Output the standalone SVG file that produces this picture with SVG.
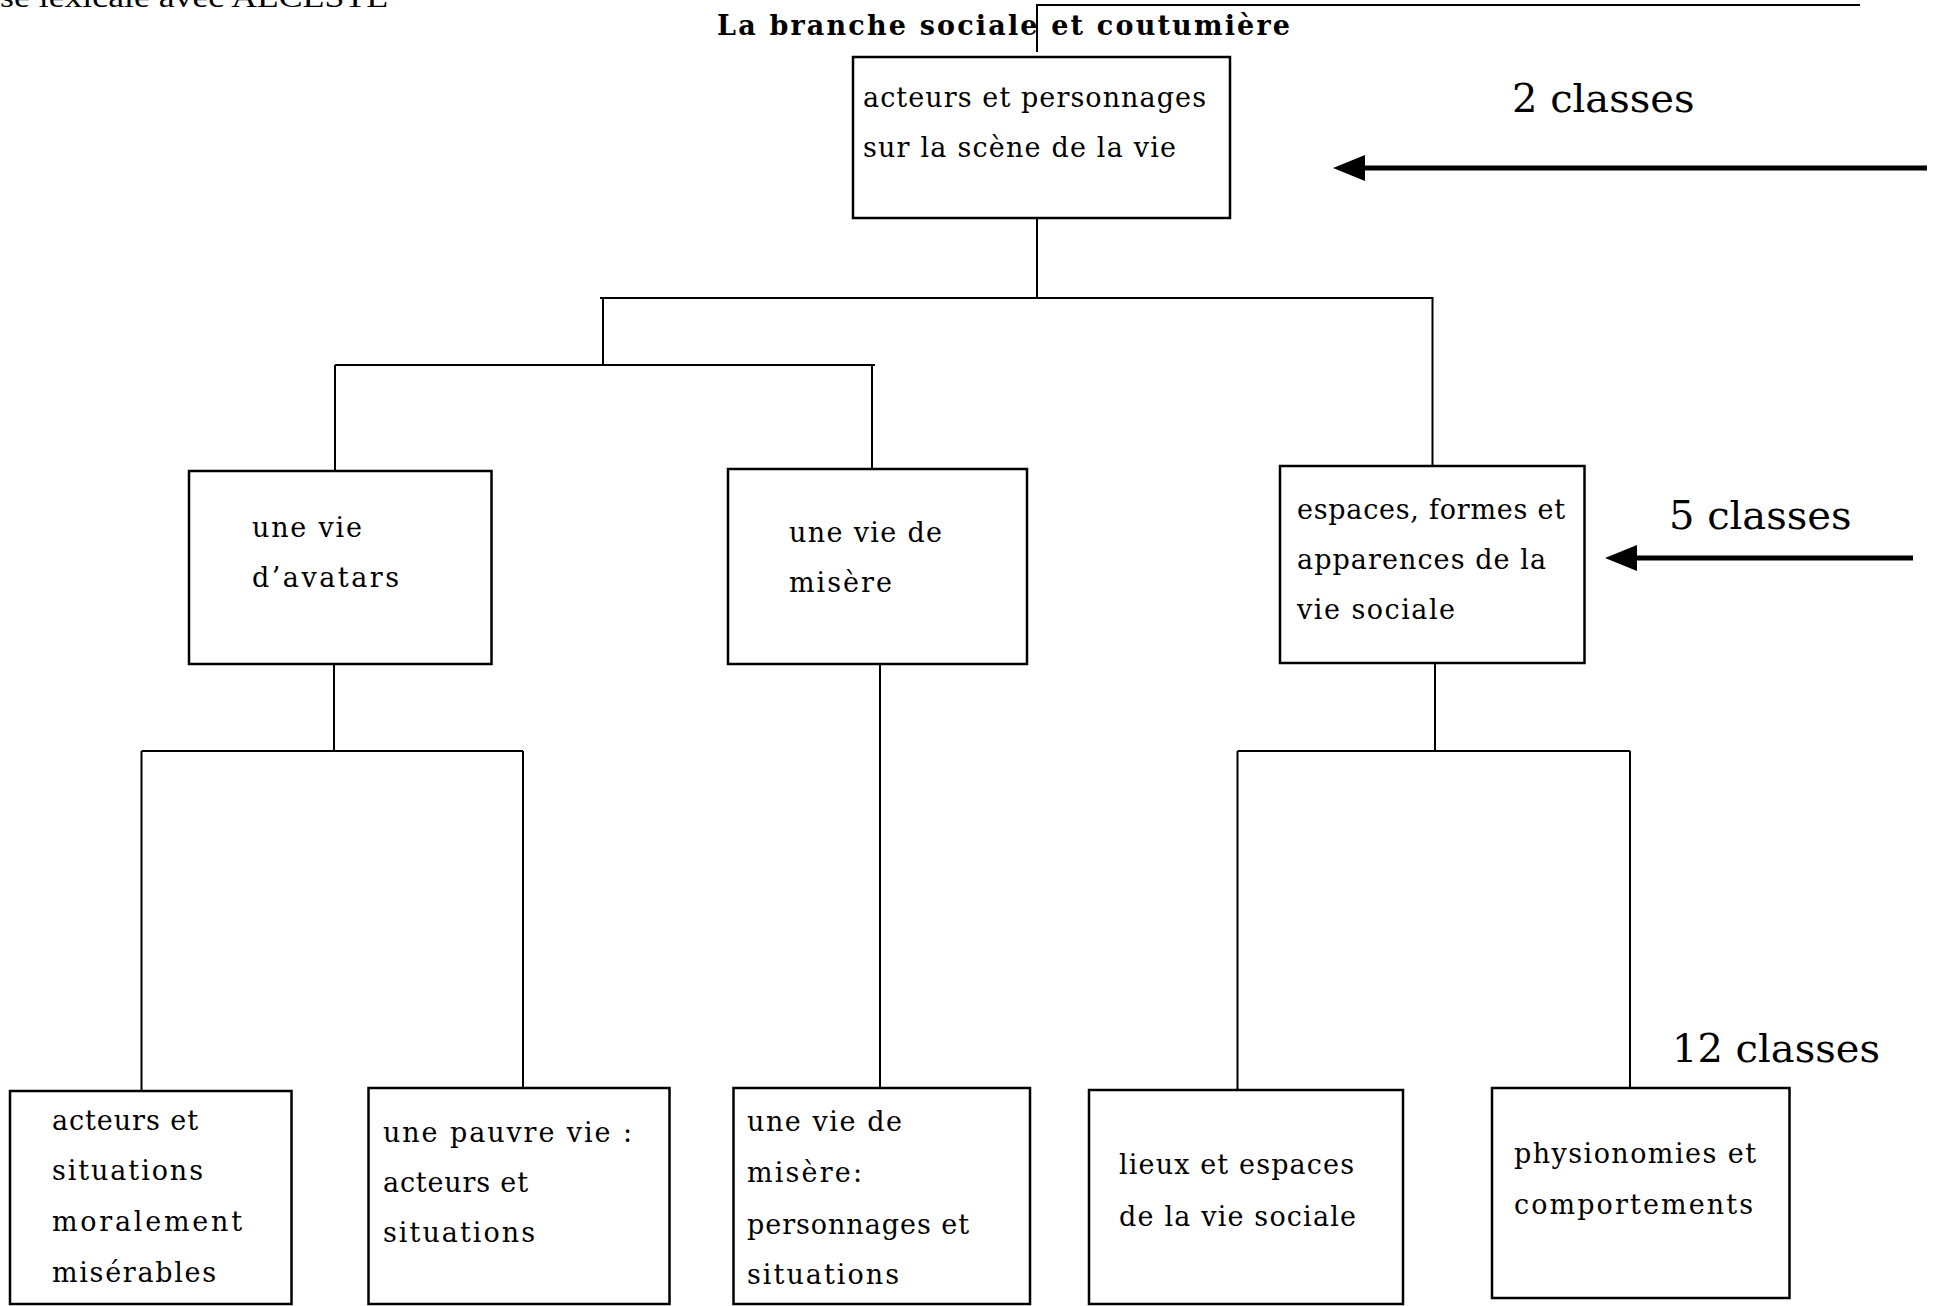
<svg xmlns="http://www.w3.org/2000/svg" width="1943" height="1306" viewBox="0 0 1943 1306">
<style>
.box{fill:#fff;stroke:#000;stroke-width:2.5}
.lbl{font-family:"DejaVu Serif","Liberation Serif",serif;font-size:27px;fill:#000}
.cls{font-family:"DejaVu Serif","Liberation Serif",serif;font-size:40px;fill:#000}
.ttl{font-family:"DejaVu Serif","Liberation Serif",serif;font-size:27px;font-weight:bold;fill:#000}
.hdr{font-family:"Liberation Serif",serif;font-size:30px;fill:#000}
.con{fill:none;stroke:#000;stroke-width:2}
.arr{fill:none;stroke:#000;stroke-width:5}
</style>
<defs>
<marker id="ah" viewBox="0 0 32 26" refX="10" refY="13" markerWidth="32" markerHeight="26" markerUnits="userSpaceOnUse" orient="auto">
<path d="M0,0 L32,13 L0,26 z" fill="#000"/>
</marker>
</defs>
<rect width="1943" height="1306" fill="#fff"/>
<text class="hdr" x="0" y="7" textLength="388" lengthAdjust="spacingAndGlyphs">se lexicale avec ALCESTE</text>
<text class="ttl" x="717" y="35" textLength="573">La branche sociale et coutumière</text>

<g id="connectors">
<path class="con" d="M1037,52 V5 H1860"/>
<path class="con" d="M1037,218 V298 M600,298 H1432.5 V466 M603,298 V365 M335,365 H875 M335,365 V471 M872,365 V469"/>
<path class="con" d="M334,664 V751 M141.5,751 H523 M141.5,751 V1091 M523,751 V1088"/>
<path class="con" d="M880,664 V1088"/>
<path class="con" d="M1435,663 V751 M1237.5,751 H1630 M1237.5,751 V1090 M1630,751 V1088"/>
<line class="arr" x1="1927" y1="168" x2="1355" y2="168" marker-end="url(#ah)"/>
<line class="arr" x1="1913" y1="558" x2="1627" y2="558" marker-end="url(#ah)"/>
</g>

<g id="n-root">
<rect class="box" x="853" y="57" width="377" height="161"/>
<text class="lbl" x="863" y="107" textLength="343">acteurs et personnages</text>
<text class="lbl" x="863" y="157" textLength="313">sur la scène de la vie</text>
</g>
<g id="n-avatars">
<rect class="box" x="189" y="471" width="302.5" height="193"/>
<text class="lbl" x="252" y="537" textLength="110">une vie</text>
<text class="lbl" x="252" y="587" textLength="147">d’avatars</text>
</g>
<g id="n-misere">
<rect class="box" x="728" y="469" width="299" height="195"/>
<text class="lbl" x="789" y="542" textLength="153">une vie de</text>
<text class="lbl" x="789" y="592" textLength="103">misère</text>
</g>
<g id="n-espaces">
<rect class="box" x="1280" y="466" width="304.5" height="197"/>
<text class="lbl" x="1297" y="519" textLength="268">espaces, formes et</text>
<text class="lbl" x="1297" y="569" textLength="249">apparences de la</text>
<text class="lbl" x="1297" y="619" textLength="158">vie  sociale</text>
</g>
<g id="n-moral">
<rect class="box" x="10" y="1091" width="281.5" height="213"/>
<text class="lbl" x="52" y="1130" textLength="146">acteurs et</text>
<text class="lbl" x="52" y="1180" textLength="151">situations</text>
<text class="lbl" x="52" y="1231" textLength="190">moralement</text>
<text class="lbl" x="52" y="1282" textLength="164">misérables</text>
</g>
<g id="n-pauvre">
<rect class="box" x="368.5" y="1088" width="301" height="216"/>
<text class="lbl" x="383" y="1142" textLength="249">une pauvre vie :</text>
<text class="lbl" x="383" y="1192" textLength="145">acteurs et</text>
<text class="lbl" x="383" y="1242" textLength="152">situations</text>
</g>
<g id="n-misere2">
<rect class="box" x="733.5" y="1088" width="296.5" height="216"/>
<text class="lbl" x="747" y="1131" textLength="155">une vie de</text>
<text class="lbl" x="747" y="1182" textLength="115">misère:</text>
<text class="lbl" x="747" y="1234" textLength="222">personnages et</text>
<text class="lbl" x="747" y="1284" textLength="152">situations</text>
</g>
<g id="n-lieux">
<rect class="box" x="1089" y="1090" width="314" height="214"/>
<text class="lbl" x="1119" y="1174" textLength="235">lieux et espaces</text>
<text class="lbl" x="1119" y="1226" textLength="237">de la vie sociale</text>
</g>
<g id="n-physio">
<rect class="box" x="1492" y="1088" width="297.5" height="210"/>
<text class="lbl" x="1514" y="1163" textLength="242">physionomies et</text>
<text class="lbl" x="1514" y="1214" textLength="239">comportements</text>
</g>

<g id="levels">
<text class="cls" x="1512" y="112">2 classes</text>
<text class="cls" x="1669" y="529">5 classes</text>
<text class="cls" x="1672" y="1062">12 classes</text>
</g>
</svg>
